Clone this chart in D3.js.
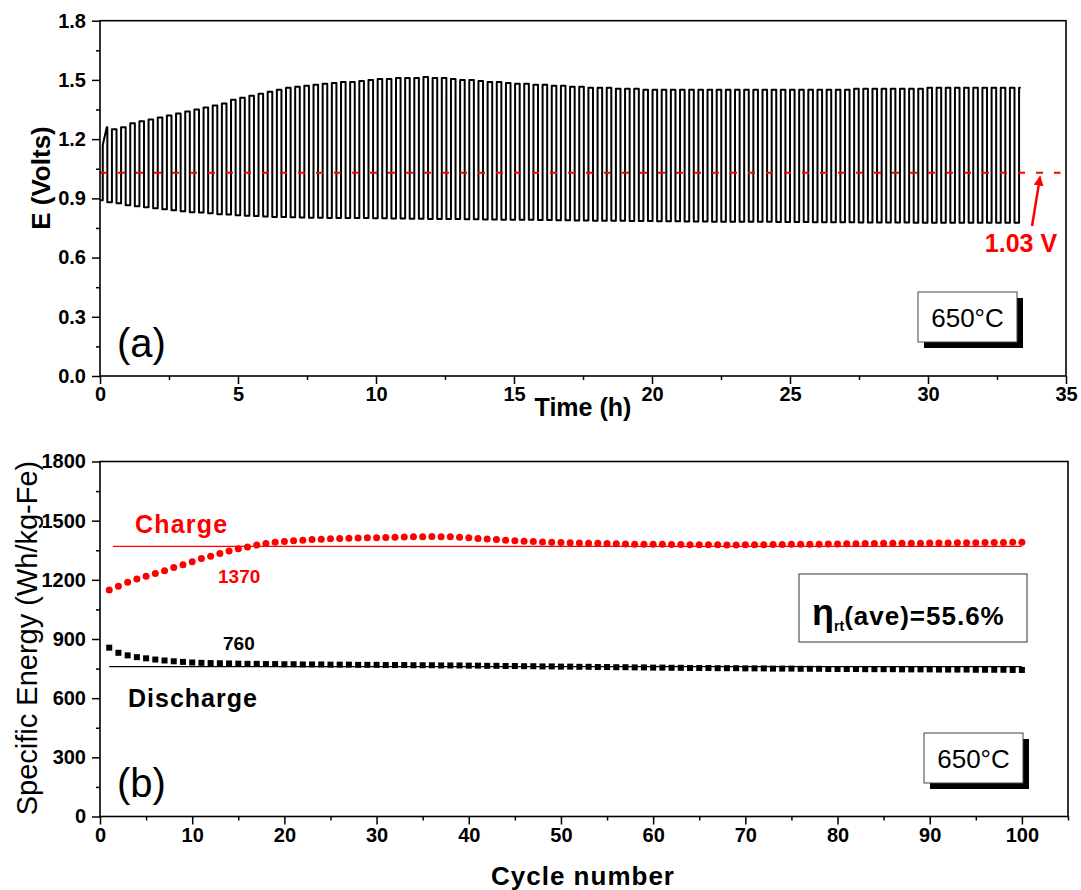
<!DOCTYPE html>
<html><head><meta charset="utf-8">
<script src="https://cdn.jsdelivr.net/npm/d3@7"></script>
<style>
body{margin:0;background:#fff;}
svg{display:block;}
text{font-family:"Liberation Sans",Arial,sans-serif;}
</style></head>
<body>
<svg id="c" width="1081" height="890"></svg>
<script>
// ---------- DATA ----------
// Panel (a): voltage per cycle (charge plateau top, discharge plateau bottom)
const cycleHours = 0.332;          // duration of one charge/discharge cycle (h)
const firstChargeStart = 0.1;      // h
const initialDischargeV = 0.89;
const firstChargeJumpV = 1.17;     // first charge jumps here, then climbs to its top
const chargeV = [1.26,1.25,1.26,1.28,1.29,1.30,1.31,1.32,1.33,1.34,
 1.35,1.36,1.37,1.38,1.40,1.41,1.42,1.43,1.44,1.45,
 1.46,1.465,1.47,1.475,1.48,1.485,1.49,1.49,1.495,1.50,
 1.505,1.505,1.51,1.51,1.51,1.515,1.51,1.51,1.505,1.50,
 1.50,1.495,1.49,1.49,1.485,1.48,1.48,1.475,1.475,1.47,
 1.47,1.465,1.465,1.46,1.46,1.46,1.455,1.455,1.455,1.45,
 1.45,1.45,1.45,1.45,1.45,1.45,1.45,1.45,1.45,1.45,
 1.45,1.45,1.45,1.45,1.45,1.45,1.45,1.45,1.45,1.45,
 1.45,1.45,1.455,1.455,1.455,1.455,1.455,1.455,1.455,1.455,
 1.46,1.46,1.46,1.46,1.46,1.46,1.46,1.46,1.46,1.46];
const dischargeV = [0.88,0.875,0.865,0.86,0.855,0.85,0.845,0.84,0.835,0.83,
 0.828,0.825,0.82,0.818,0.815,0.812,0.81,0.808,0.806,0.805,
 0.804,0.803,0.802,0.802,0.801,0.801,0.800,0.800,0.800,0.799,
 0.799,0.798,0.798,0.797,0.797,0.796,0.796,0.795,0.795,0.794,
 0.794,0.793,0.793,0.792,0.792,0.791,0.791,0.790,0.790,0.789,
 0.789,0.788,0.788,0.787,0.787,0.786,0.786,0.785,0.785,0.785,
 0.784,0.784,0.784,0.783,0.783,0.783,0.782,0.782,0.782,0.781,
 0.781,0.781,0.781,0.780,0.780,0.780,0.780,0.779,0.779,0.779,
 0.779,0.779,0.778,0.778,0.778,0.778,0.778,0.778,0.777,0.777,
 0.777,0.777,0.777,0.777,0.777,0.777,0.777,0.777,0.777,0.777];
const finalChargeV = 1.46;
const avgVoltage = 1.03;
const arrowTail = [33.77, 0.76], arrowTip = [34.06, 1.01];

// Panel (b): specific energy per cycle
const cycles = d3.range(1, 101);
const chargeE = [1148,1168,1188,1204,1218,1232,1246,1262,1276,1292,
 1308,1320,1334,1346,1357,1367,1376,1384,1390,1395,
 1398,1401,1404,1406,1408,1410,1411,1412,1413,1414,
 1415,1416,1417,1418,1419,1420,1419,1418,1416,1413,
 1410,1407,1404,1401,1398,1396,1394,1392,1390,1389,
 1388,1387,1386,1385,1384,1383,1382,1381,1381,1380,
 1380,1379,1379,1378,1378,1378,1378,1377,1377,1378,
 1378,1378,1379,1379,1380,1380,1381,1381,1382,1382,
 1383,1383,1384,1384,1385,1385,1385,1386,1386,1387,
 1387,1387,1388,1388,1388,1389,1389,1389,1390,1390];
const dischargeE = [856,830,817,808,802,796,791,787,784,781,
 779,778,777,776,775,774,774,773,773,772,
 772,771,771,771,770,770,770,769,769,769,
 768,768,768,767,767,767,766,766,766,765,
 765,764,764,763,763,762,762,761,761,760,
 760,759,759,758,758,757,757,756,756,755,
 755,754,754,753,753,753,752,752,752,751,
 751,751,750,750,750,749,749,749,748,748,
 748,748,747,747,747,747,746,746,746,746,
 745,745,745,745,744,744,744,744,743,743];
const chargeAvg = 1370, dischargeAvg = 760;

// Ticks
const xTicksA = [0,5,10,15,20,25,30,35];
const xMinorA = [2.5,7.5,12.5,17.5,22.5,27.5,32.5];
const yTicksA = [0.0,0.3,0.6,0.9,1.2,1.5,1.8];
const yMinorA = [0.15,0.45,0.75,1.05,1.35,1.65];
const xTicksB = [0,10,20,30,40,50,60,70,80,90,100];
const xMinorB = [5,15,25,35,45,55,65,75,85,95,105];
const yTicksB = [0,300,600,900,1200,1500,1800];
const yMinorB = [150,450,750,1050,1350,1650];

// ---------- DRAW ----------
const svg = d3.select('#c');
const RED = '#ff0000';

const xA = d3.scaleLinear([0,35],[100,1066]);
const yA = d3.scaleLinear([0,1.8],[376,20.7]);
const xB = d3.scaleLinear([0,105],[100,1068]);
const yB = d3.scaleLinear([0,1800],[816.5,461.5]);

function axes(x, y, xt, xm, yt, ym, yfmt){
  const g = svg.append('g');
  const y0 = y.range()[0], x0 = x.range()[0];
  g.append('g').attr('transform',`translate(0,${y0})`)
    .call(d3.axisBottom(x).tickValues(xt).tickSize(8).tickPadding(3).tickSizeOuter(0).tickFormat(d3.format('d')));
  g.append('g').attr('transform',`translate(0,${y0})`)
    .call(d3.axisBottom(x).tickValues(xm).tickSize(4).tickSizeOuter(0).tickFormat(''));
  g.append('g').attr('transform',`translate(${x0},0)`)
    .call(d3.axisLeft(y).tickValues(yt).tickSize(8).tickPadding(6).tickSizeOuter(0).tickFormat(yfmt));
  g.append('g').attr('transform',`translate(${x0},0)`)
    .call(d3.axisLeft(y).tickValues(ym).tickSize(4).tickSizeOuter(0).tickFormat(''));
  g.selectAll('.domain').remove();
  g.selectAll('.tick line').attr('stroke','#000').attr('stroke-width',1.5);
  g.selectAll('.tick text').attr('font-size',20).attr('font-weight','bold').attr('fill','#000')
    .attr('font-family','"Liberation Sans",Arial,sans-serif');
  g.append('rect').attr('x',x0).attr('y',y.range()[1])
    .attr('width',x.range()[1]-x0).attr('height',y0-y.range()[1])
    .attr('fill','none').attr('stroke','#000').attr('stroke-width',1.6);
}

// ---- Panel (a) ----
const pts = [[0, initialDischargeV]];
let prevD = initialDischargeV;
chargeV.forEach((vc,i)=>{
  const ts = firstChargeStart + i*cycleHours;
  const te = ts + cycleHours/2;
  if (i === 0) {
    pts.push([ts, prevD],[ts, firstChargeJumpV],[te-0.02, vc],[te, vc],[te, dischargeV[i]]);
  } else {
    pts.push([ts, prevD],[ts, vc],[te, vc],[te, dischargeV[i]]);
  }
  prevD = dischargeV[i];
});
const tEnd = firstChargeStart + chargeV.length*cycleHours;
pts.push([tEnd, prevD],[tEnd, finalChargeV],[tEnd+0.06, finalChargeV]);

svg.append('path').datum(pts)
  .attr('d', d3.line().x(d=>xA(d[0])).y(d=>yA(d[1])))
  .attr('fill','none').attr('stroke','#000').attr('stroke-width',2).attr('stroke-linejoin','round');

svg.append('line').attr('x1',xA(0)).attr('x2',xA(34.8))
  .attr('y1',yA(avgVoltage)).attr('y2',yA(avgVoltage))
  .attr('stroke',RED).attr('stroke-width',2).attr('stroke-dasharray','7,11');

// arrow
svg.append('defs').append('marker').attr('id','ah').attr('viewBox','0 0 10 10')
  .attr('refX',9).attr('refY',5).attr('markerWidth',4).attr('markerHeight',4).attr('orient','auto')
  .append('path').attr('d','M0,0L10,5L0,10z').attr('fill',RED);
svg.append('line').attr('x1',xA(arrowTail[0])).attr('y1',yA(arrowTail[1]))
  .attr('x2',xA(arrowTip[0])).attr('y2',yA(arrowTip[1]))
  .attr('stroke',RED).attr('stroke-width',2.5).attr('marker-end','url(#ah)');
svg.append('text').attr('x',1021).attr('y',252).attr('text-anchor','middle')
  .attr('font-size',25).attr('font-weight','bold').attr('fill',RED).text('1.03 V');

axes(xA, yA, xTicksA, xMinorA, yTicksA, yMinorA, d3.format('.1f'));

// ---- Panel (b) ----
svg.append('line').attr('x1',xB(1.4)).attr('x2',xB(100))
  .attr('y1',yB(chargeAvg)).attr('y2',yB(chargeAvg)).attr('stroke',RED).attr('stroke-width',1.2);
svg.append('line').attr('x1',xB(1)).attr('x2',xB(100))
  .attr('y1',yB(dischargeAvg)).attr('y2',yB(dischargeAvg)).attr('stroke','#000').attr('stroke-width',1.2);

svg.append('g').selectAll('circle').data(cycles).join('circle')
  .attr('cx',d=>xB(d)).attr('cy',(d,i)=>yB(chargeE[i])).attr('r',3.5).attr('fill',RED);
svg.append('g').selectAll('rect').data(cycles).join('rect')
  .attr('x',d=>xB(d)-3).attr('y',(d,i)=>yB(dischargeE[i])-3)
  .attr('width',6).attr('height',6).attr('fill','#000');

axes(xB, yB, xTicksB, xMinorB, yTicksB, yMinorB, d3.format('d'));

// texts panel b
svg.append('text').attr('x',135).attr('y',533).attr('font-size',25).attr('font-weight','bold')
  .attr('fill',RED).attr('letter-spacing',1.2).text('Charge');
svg.append('text').attr('x',218).attr('y',583).attr('font-size',19).attr('font-weight','bold')
  .attr('fill',RED).text(String(chargeAvg));
svg.append('text').attr('x',223).attr('y',650).attr('font-size',19).attr('font-weight','bold')
  .attr('fill','#000').text(String(dischargeAvg));
svg.append('text').attr('x',128).attr('y',707).attr('font-size',25).attr('font-weight','bold')
  .attr('fill','#000').attr('letter-spacing',1).text('Discharge');

// eta box
svg.append('rect').attr('x',799).attr('y',574).attr('width',228).attr('height',68)
  .attr('fill','#fff').attr('stroke','#555').attr('stroke-width',1.2);
const et = svg.append('text').attr('x',812).attr('y',625).attr('font-weight','bold').attr('fill','#000');
et.append('tspan').attr('font-size',36).text('η');
et.append('tspan').attr('font-size',14).attr('dy',6).text('rt');
et.append('tspan').attr('font-size',26).attr('dy',-6).attr('letter-spacing',1).text('(ave)=55.6%');

// temperature boxes
function tempBox(x,y){
  svg.append('rect').attr('x',x+6).attr('y',y+6).attr('width',99).attr('height',50).attr('fill','#000');
  svg.append('rect').attr('x',x).attr('y',y).attr('width',99).attr('height',50)
    .attr('fill','#fff').attr('stroke','#444').attr('stroke-width',1);
  svg.append('text').attr('x',x+49.5).attr('y',y+35).attr('text-anchor','middle')
    .attr('font-size',26).attr('fill','#000').text('650°C');
}
tempBox(918,292);
tempBox(924,733);

// panel labels
svg.append('text').attr('x',117).attr('y',357).attr('font-size',40)
  .attr('font-family','Lato,"Open Sans",sans-serif').text('(a)');
svg.append('text').attr('x',117).attr('y',797).attr('font-size',40)
  .attr('font-family','Lato,"Open Sans",sans-serif').text('(b)');

// axis titles
svg.append('text').attr('x',583).attr('y',416).attr('text-anchor','middle')
  .attr('font-size',25).attr('font-weight','bold').text('Time (h)');
svg.append('text').attr('x',583).attr('y',885).attr('text-anchor','middle')
  .attr('font-size',26).attr('font-weight','bold').attr('letter-spacing',1).text('Cycle number');
svg.append('text').attr('transform','translate(50,178) rotate(-90)').attr('text-anchor','middle')
  .attr('font-size',26).attr('font-weight','bold').text('E (Volts)');
svg.append('text').attr('transform','translate(37,638) rotate(-90)').attr('text-anchor','middle')
  .attr('font-size',29).text('Specific Energy (Wh/kg-Fe)');
</script>
</body></html>
